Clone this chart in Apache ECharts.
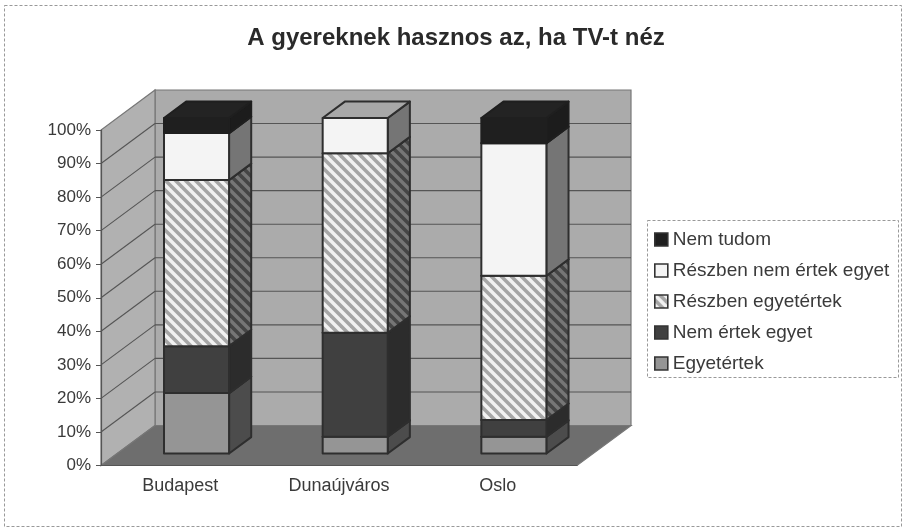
<!DOCTYPE html>
<html>
<head>
<meta charset="utf-8">
<title>A gyereknek hasznos az, ha TV-t néz</title>
<script src="https://cdn.jsdelivr.net/npm/echarts@6/dist/echarts.min.js"></script>
<style>
  html, body { margin: 0; padding: 0; background: #fff; }
  #chart { width: 904px; height: 529px; }
</style>
</head>
<body>
<div id="chart"></div>
<script>
const categories = ['Budapest', 'Dunaújváros', 'Oslo']
const seriesNames = ['Egyetértek', 'Nem értek egyet', 'Részben egyetértek', 'Részben nem értek egyet', 'Nem tudom']
const egyetertek = [18, 5, 5]
const nemErtek = [14, 31, 5]
const reszbenEgyet = [49.5, 53.5, 43]
const reszbenNem = [14, 10.5, 39.5]
const nemTudom = [4.5, 0, 7.5]
const seriesValues = [egyetertek, nemErtek, reszbenEgyet, reszbenNem, nemTudom]
const yTicks = [0, 10, 20, 30, 40, 50, 60, 70, 80, 90, 100]

// oblique depth of the floor, the bars sit between near and far
const DX = 54
const DY = -40
const BAR_NEAR = 0.3
const BAR_FAR = 0.71
const BAR_WIDTH = 0.41
const EDGE = '#2e2e2e'

const hatch = (bg, fg) => {
  const size = 10
  const c = document.createElement('canvas')
  c.width = size
  c.height = size
  const g = c.getContext('2d')
  g.fillStyle = bg
  g.fillRect(0, 0, size, size)
  g.strokeStyle = fg
  g.lineWidth = 3.5
  // run past the tile so the stripes join up without notches
  for (const o of [-size, 0, size]) {
    g.beginPath()
    g.moveTo(o - 4, -4)
    g.lineTo(o + size + 4, size + 4)
    g.stroke()
  }
  return { image: c, repeat: 'repeat' }
}

const faces = [
  { front: '#959595', side: '#4c4c4c', top: '#777', edge: EDGE },
  { front: '#404040', side: '#2c2c2c', top: '#333', edge: EDGE },
  { front: hatch('#a6a6a6', '#f2f2f2'), side: hatch('#454545', '#767676'), top: '#999', edge: EDGE },
  { front: '#f4f4f4', side: '#757575', top: '#a8a8a8', edge: EDGE },
  { front: '#1f1f1f', side: '#1c1c1c', top: '#232323', edge: '#1f1f1f' }
]

// [category, from, to] for each stacked block
const stackData = seriesIndex => categories.map((_, i) => {
  let from = 0
  for (let s = 0; s < seriesIndex; s++) from += seriesValues[s][i]
  return [i, from, from + seriesValues[seriesIndex][i]]
})

const shift = (p, t) => [p[0] + DX * t, p[1] + DY * t]

const poly = (points, fill, stroke) => ({
  type: 'polygon',
  shape: { points },
  style: { fill, stroke, lineWidth: 2, lineJoin: 'round' }
})

const renderBlock = face => (params, api) => {
  const from = api.value(1)
  const to = api.value(2)
  if (to <= from) return { type: 'group', children: [] }
  const cx = api.coord([api.value(0), 0])[0]
  const half = api.size([1, 0])[0] * BAR_WIDTH / 2
  const y0 = api.coord([0, from])[1]
  const y1 = api.coord([0, to])[1]
  const a = shift([cx - half, y0], BAR_NEAR)
  const b = shift([cx + half, y0], BAR_NEAR)
  const c = shift([cx + half, y1], BAR_NEAR)
  const d = shift([cx - half, y1], BAR_NEAR)
  const back = BAR_FAR - BAR_NEAR
  return {
    type: 'group',
    children: [
      poly([b, shift(b, back), shift(c, back), c], face.side, face.edge),
      poly([d, c, shift(c, back), shift(d, back)], face.top, face.edge),
      poly([a, b, c, d], face.front, face.edge)
    ]
  }
}

// walls and floor, every corner comes from the axis scales
const renderWalls = (params, api) => {
  const step = api.size([1, 0])[0]
  const left = api.coord([0, 0])[0] - step / 2
  const right = api.coord([categories.length - 1, 0])[0] + step / 2
  const at = (x, v) => [x, api.coord([0, v])[1]]
  const bl = at(left, 0)
  const br = at(right, 0)
  const tl = at(left, 100)
  const tr = at(right, 100)
  const fill = (points, color) => ({ type: 'polygon', shape: { points }, style: { fill: color, stroke: '#777', lineWidth: 1.2 } })
  const children = [
    fill([shift(bl, 1), shift(tl, 1), shift(tr, 1), shift(br, 1)], '#ababab'),
    fill([bl, tl, shift(tl, 1), shift(bl, 1)], '#b1b1b1'),
    fill([bl, shift(bl, 1), shift(br, 1), br], '#6e6e6e')
  ]
  const line = (p, q) => ({ type: 'line', shape: { x1: p[0], y1: p[1], x2: q[0], y2: q[1] }, style: { stroke: '#555', lineWidth: 1.1 } })
  yTicks.slice(1, -1).forEach(t => {
    const l = at(left, t)
    const r = at(right, t)
    children.push(line(l, shift(l, 1)), line(shift(l, 1), shift(r, 1)))
  })
  return { type: 'group', children }
}

const chart = echarts.init(document.getElementById('chart'), null, { renderer: 'canvas' })

const textColor = '#3a3a3a'
const fontFamily = '"Liberation Sans", Arial, sans-serif'

chart.setOption({
  animation: false,
  backgroundColor: '#fff',
  textStyle: { fontFamily },
  title: {
    text: 'A gyereknek hasznos az, ha TV-t néz',
    left: 451,
    top: 21,
    textAlign: 'center',
    textStyle: { fontSize: 24, fontWeight: 'bold', color: '#2a2a2a', fontFamily }
  },
  grid: { left: 101, top: 130, width: 476, height: 335.5 },
  xAxis: {
    type: 'category',
    data: categories,
    z: 10,
    axisLine: { lineStyle: { color: '#555', width: 1.2 } },
    axisTick: { length: 5, lineStyle: { color: '#555' } },
    axisLabel: { color: textColor, fontSize: 18, margin: 12, fontFamily }
  },
  yAxis: {
    type: 'value',
    min: 0,
    max: 100,
    interval: 10,
    z: 10,
    axisLine: { show: true, lineStyle: { color: '#555', width: 1.2 } },
    axisTick: { show: true, length: 5, lineStyle: { color: '#555' } },
    axisLabel: { color: textColor, fontSize: 17, margin: 10, formatter: '{value}%', fontFamily },
    splitLine: { show: false }
  },
  legend: {
    orient: 'vertical',
    left: 654,
    top: 230,
    padding: 0,
    itemGap: 12,
    itemWidth: 13,
    itemHeight: 13,
    icon: 'rect',
    data: seriesNames.slice().reverse(),
    selectedMode: false,
    itemStyle: { borderColor: '#333', borderWidth: 1.6 },
    textStyle: { color: textColor, fontSize: 19, fontFamily }
  },
  graphic: [
    { type: 'rect', silent: true, z: -1, shape: { x: 4.5, y: 5.5, width: 897, height: 521 }, style: { fill: 'none', stroke: '#999', lineWidth: 1, lineDash: [3, 2] } },
    { type: 'rect', silent: true, z: -1, shape: { x: 647.5, y: 220.5, width: 251, height: 157 }, style: { fill: 'none', stroke: '#999', lineWidth: 1, lineDash: [3, 2] } }
  ],
  series: [
    {
      type: 'custom',
      silent: true,
      z: 1,
      renderItem: renderWalls,
      data: [[0]]
    },
    ...seriesNames.map((name, i) => ({
      name,
      type: 'custom',
      z: 2 + i,
      itemStyle: { color: faces[i].front },
      encode: { x: 0, y: [1, 2] },
      renderItem: renderBlock(faces[i]),
      data: stackData(i)
    }))
  ]
})
</script>
</body>
</html>
